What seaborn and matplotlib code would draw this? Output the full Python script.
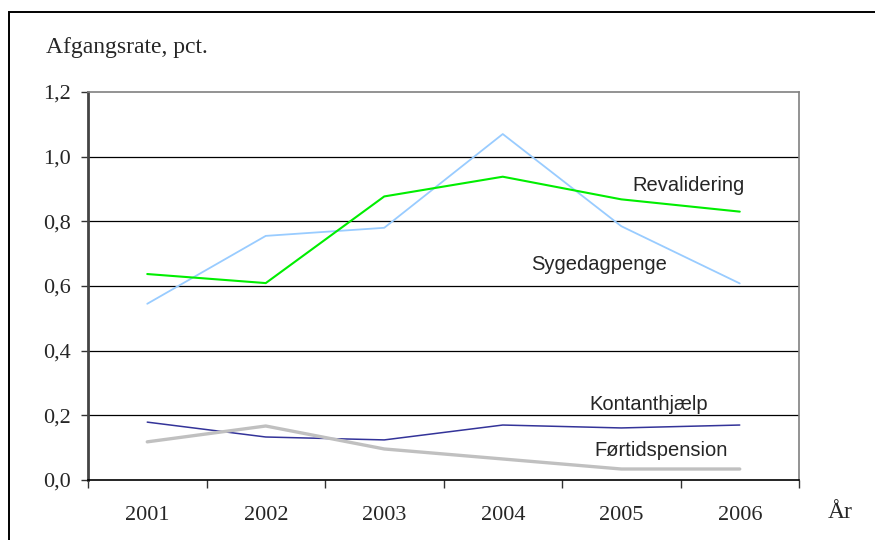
import numpy as np
import pandas as pd
import matplotlib
matplotlib.use("Agg")
import matplotlib.pyplot as plt
import seaborn as sns
from matplotlib.patches import Rectangle

# DATA

years = [2001, 2002, 2003, 2004, 2005, 2006]
sygedagpenge = [0.545, 0.755, 0.78, 1.07, 0.785, 0.608]
revalidering = [0.637, 0.609, 0.877, 0.938, 0.868, 0.830]
kontanthjaelp = [0.179, 0.133, 0.124, 0.170, 0.161, 0.170]
foertidspension = [0.118, 0.167, 0.096, 0.065, 0.034, 0.034]

series_names = ["Sygedagpenge", "Revalidering", "Kontanthjælp", "Førtidspension"]
series_colors = ["#99CCFF", "#00EE00", "#333399", "#C0C0C0"]
series_widths = [1.3, 1.5, 1.1, 2.4]
y_ticks = [0.0, 0.2, 0.4, 0.6, 0.8, 1.0, 1.2]
y_ticklabels = ["0,0", "0,2", "0,4", "0,6", "0,8", "1,0", "1,2"]

# label anchors (data coords)
label_pos = {"Revalidering": (2005.57, 0.912),
             "Sygedagpenge": (2004.81, 0.668),
             "Kontanthjælp": (2005.23, 0.235),
             "Førtidspension": (2005.34, 0.090)}

df = pd.DataFrame({"year": years,
                   "Sygedagpenge": sygedagpenge,
                   "Revalidering": revalidering,
                   "Kontanthjælp": kontanthjaelp,
                   "Førtidspension": foertidspension})

# PLOT

sns.set_style("white")
plt.rcParams['font.family'] = ['Liberation Serif', 'DejaVu Serif']

fig = plt.figure(figsize=(8.75, 5.4), dpi=100)
ax = fig.add_axes([88/875, 60/540, (799-88)/875, (480-92)/540])

for name, col, lw in zip(series_names, series_colors, series_widths):
    sns.lineplot(data=df, x="year", y=name, color=col, linewidth=lw, ax=ax)

for y in [0.2, 0.4, 0.6, 0.8, 1.0]:
    ax.axhline(y, color="black", linewidth=0.9, zorder=0)

ax.set_xlim(2000.5, 2006.5)
ax.set_ylim(0, 1.2)
ax.set_xlabel("")
ax.set_ylabel("")

ax.set_xticks(np.arange(2000.5, 2007, 1.0))
ax.set_xticklabels([])
ax.set_xticks(years, minor=True)
ax.set_xticklabels([str(y) for y in years], minor=True, fontsize=16)
ax.tick_params(axis="x", which="major", direction="out", length=6, width=1, color="#333333", bottom=True)
ax.tick_params(axis="x", which="minor", length=0, pad=19)

ax.set_yticks(y_ticks)
ax.set_yticklabels(y_ticklabels, fontsize=16)
ax.tick_params(axis="y", direction="out", length=5, width=1, color="#333333", pad=7, left=True)

ax.spines["left"].set_color("#444444")
ax.spines["left"].set_linewidth(2)
ax.spines["bottom"].set_color("black")
ax.spines["bottom"].set_linewidth(1.2)
for s in ["top", "right"]:
    ax.spines[s].set_color("#808080")
    ax.spines[s].set_linewidth(1.2)

for name, (lx, ly) in label_pos.items():
    ax.text(lx, ly, name, ha="center", va="center", fontsize=14.5,
            family=["Liberation Sans", "DejaVu Sans"])

fig.text(127/875, 1 - 48/540, "Afgangsrate, pct.", ha="center", va="center", fontsize=17)
fig.text(840/875, 1 - 513/540, "År", ha="center", va="center", fontsize=17)

# outer frame
fig.add_artist(Rectangle((8.5/875, -0.2), 1.2, 1.2 - 12/540,
                         transform=fig.transFigure, fill=False,
                         edgecolor="black", linewidth=1.4))

fig.savefig("out.png", dpi=100)
